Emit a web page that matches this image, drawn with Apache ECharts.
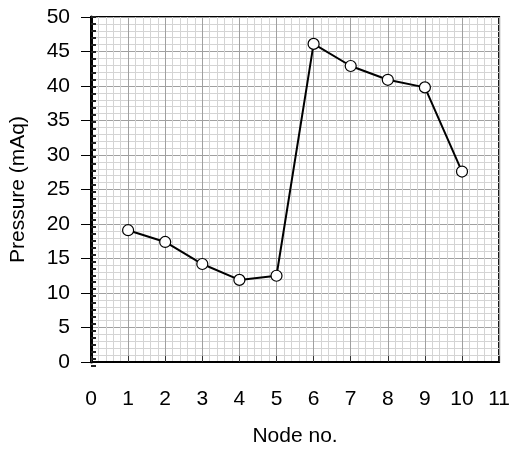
<!DOCTYPE html>
<html>
<head>
<meta charset="utf-8">
<script src="https://cdn.jsdelivr.net/npm/echarts@6/dist/echarts.min.js"></script>
<style>
  html, body { margin: 0; padding: 0; background: #fff; }
  #chart { width: 513px; height: 452px; }
</style>
</head>
<body>
<div id="chart"></div>
<script>
const nodes = [1, 2, 3, 4, 5, 6, 7, 8, 9, 10]
const pressure = [19.1, 17.4, 14.2, 11.9, 12.5, 46.1, 42.9, 40.9, 39.8, 27.6]

const font = 'Liberation Sans, Arial, sans-serif'
const rect = { left: 91, top: 17, right: 13, bottom: 86 }
const chart = echarts.init(document.getElementById('chart'))

chart.setOption({
  animation: false,
  grid: [
    { ...rect, show: true, borderColor: '#000', borderWidth: 2 },
    // twin grid, only used for the small inner ticks on the left edge
    { ...rect, show: false }
  ],
  xAxis: [
    {
      type: 'value',
      min: 0, max: 11, interval: 1,
      name: 'Node no.',
      nameLocation: 'middle',
      nameGap: 64,
      nameTextStyle: { color: '#000', fontSize: 21, fontFamily: font },
      axisLine: { show: true, onZero: false, lineStyle: { color: '#000', width: 2 } },
      axisTick: { show: true, inside: true, length: 6, lineStyle: { color: '#333', width: 1 } },
      axisLabel: { color: '#000', fontSize: 21, fontFamily: font, margin: 27 },
      splitLine: { show: true, lineStyle: { color: '#a0a0a0', width: 1 } },
      minorTick: { show: false, splitNumber: 5 },
      minorSplitLine: { show: true, lineStyle: { color: '#d4d4d4', width: 1 } }
    },
    { gridIndex: 1, type: 'value', min: 0, max: 11, show: false }
  ],
  yAxis: [
    {
      type: 'value',
      min: 0, max: 50, interval: 5,
      name: 'Pressure (mAq)',
      nameLocation: 'middle',
      nameGap: 62,
      nameTextStyle: { color: '#000', fontSize: 21, fontFamily: font },
      axisLine: { show: true, onZero: false, lineStyle: { color: '#000', width: 3 } },
      axisTick: { show: true, length: 10, lineStyle: { color: '#000', width: 1 } },
      axisLabel: { color: '#000', fontSize: 21, fontFamily: font, margin: 21 },
      splitLine: { show: true, lineStyle: { color: '#a0a0a0', width: 1 } },
      minorTick: { show: false, splitNumber: 5 },
      minorSplitLine: { show: true, lineStyle: { color: '#d4d4d4', width: 1 } }
    },
    {
      gridIndex: 1,
      type: 'value',
      position: 'left',
      min: 0, max: 50, interval: 1,
      axisLine: { show: false },
      axisTick: { show: true, inside: true, length: 5, lineStyle: { color: '#222', width: 2 } },
      axisLabel: { show: false },
      splitLine: { show: false }
    }
  ],
  series: [
    {
      type: 'line',
      data: nodes.map((n, i) => [n, pressure[i]]),
      symbol: 'circle',
      symbolSize: 11,
      lineStyle: { color: '#000', width: 2 },
      itemStyle: { color: '#fff', borderColor: '#000', borderWidth: 1.2 },
      z: 5
    }
  ]
})
</script>
</body>
</html>
